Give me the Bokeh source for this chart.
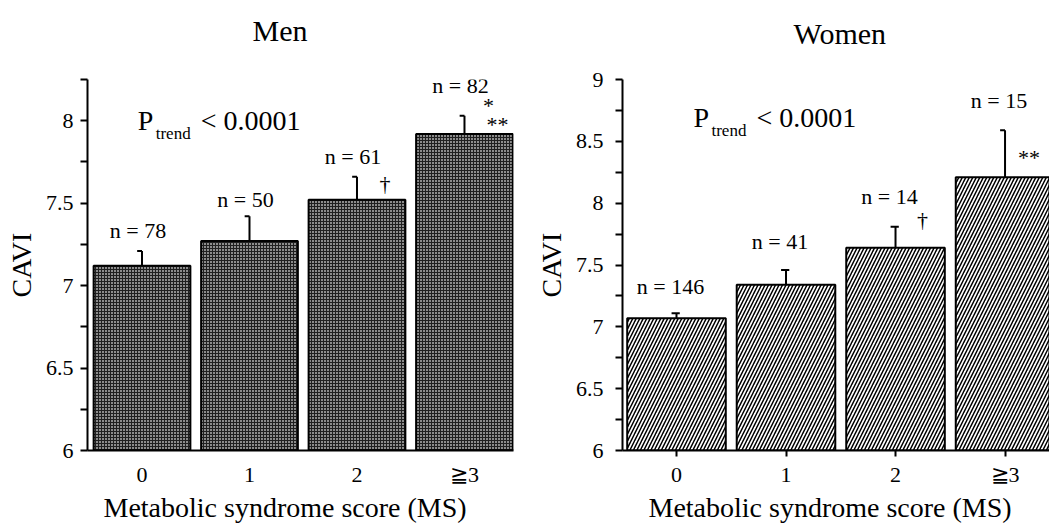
from bokeh.plotting import figure
from bokeh.models import Range1d, FixedTicker, NumeralTickFormatter, Title, ColumnDataSource
from bokeh.layouts import row
from bokeh.embed import file_html
from bokeh.resources import INLINE
from bokeh.core.properties import value

# ---------------- data ----------------
categories = ["0", "1", "2", "≧3"]
men_cavi = [7.12, 7.27, 7.52, 7.92]
men_err = [0.09, 0.15, 0.14, 0.11]
men_n = [78, 50, 61, 82]
women_cavi = [7.07, 7.34, 7.64, 8.21]
women_err = [0.04, 0.12, 0.17, 0.38]
women_n = [146, 41, 14, 15]
men_ticks = [6, 6.5, 7, 7.5, 8]
women_ticks = [6, 6.5, 7, 7.5, 8, 8.5, 9]
p_trend_text = "< 0.0001"

# ---------------- style ----------------
FONT = value("Liberation Serif")
FONT_NAME = "Liberation Serif"
men_n_lift = [20, 17, 20, 30]
women_n_lift = [27, 28, 30, 30]
women_cap_right = [0.03, 0.03, 0.03, 0.0]


def base_fig(width, border_left, border_right, y_start, y_end, x_start, x_end, title,
             title_offset, spacer_standoff, xlabel_offset, yticks, xtick_out,
             ylab_standoff, ytick_standoff):
    p = figure(width=width, height=527, output_backend="svg", toolbar_location=None,
               x_range=Range1d(x_start, x_end), y_range=Range1d(y_start, y_end),
               min_border_left=border_left, min_border_right=border_right,
               min_border_top=79, min_border_bottom=77, title=None)
    p.outline_line_color = None
    p.grid.visible = False
    p.background_fill_color = "white"
    p.border_fill_color = "white"

    # spacer between frame and panel title, then the title itself
    p.add_layout(Title(text=" ", text_font_size="10px", standoff=spacer_standoff), "above")
    p.add_layout(Title(text=title, align="left", offset=title_offset, standoff=0,
                       text_font=FONT_NAME, text_font_size="30px", text_font_style="normal",
                       text_color="black"), "above")

    minor = []
    for a, b in zip(yticks[:-1], yticks[1:]):
        minor.append((a + b) / 2)
    if yticks[-1] < y_end - 1e-9:
        minor.append(yticks[-1] + (yticks[1] - yticks[0]) / 2)
    yax = p.yaxis[0]
    yax.ticker = FixedTicker(ticks=yticks, minor_ticks=minor)
    yax.formatter = NumeralTickFormatter(format="0.[0]")
    yax.axis_label = "CAVI"
    yax.axis_label_text_font = FONT_NAME
    yax.axis_label_text_font_size = "28px"
    yax.axis_label_text_font_style = "normal"
    yax.axis_label_text_color = "black"
    yax.axis_label_standoff = ylab_standoff
    yax.major_label_text_font = FONT_NAME
    yax.major_label_text_font_size = "22px"
    yax.major_label_text_color = "black"
    yax.major_label_standoff = ytick_standoff
    yax.major_tick_in = 0
    yax.major_tick_out = 7
    yax.minor_tick_in = 0
    yax.minor_tick_out = 7
    yax.axis_line_width = 2
    yax.major_tick_line_width = 2
    yax.minor_tick_line_width = 2

    xax = p.xaxis[0]
    xax.ticker = FixedTicker(ticks=list(range(len(categories))))
    xax.major_label_overrides = {i: c for i, c in enumerate(categories)}
    xax.major_label_text_font = FONT_NAME
    xax.major_label_text_font_size = "22px"
    xax.major_label_text_color = "black"
    xax.major_label_standoff = 11 - xtick_out
    xax.major_tick_in = 0
    xax.major_tick_out = xtick_out
    xax.minor_tick_line_color = None
    xax.axis_line_width = 2
    xax.major_tick_line_width = 2
    if xtick_out == 0:
        xax.major_tick_line_color = None

    xl = Title(text="Metabolic syndrome score (MS)", align="left", offset=xlabel_offset,
               text_font=FONT_NAME, text_font_size="28px", text_font_style="normal",
               text_color="black", standoff=0)
    p.add_layout(xl, "below")
    return p


def draw_bars(p, vals, errs, ns, lifts, cap_right, fill_kwargs, n_xoff):
    x = list(range(len(categories)))
    tops = [v + e for v, e in zip(vals, errs)]
    src = ColumnDataSource(dict(x=x, top=vals, err_top=tops,
                                cap_l=[xi - 0.045 for xi in x],
                                cap_r=[xi + c for xi, c in zip(x, cap_right)],
                                label=[f"n = {n}" for n in ns],
                                lift=[-l for l in lifts]))
    p.vbar(x="x", top="top", bottom=p.y_range.start, width=0.9, source=src,
           line_color="black", line_width=2, **fill_kwargs)
    p.segment(x0="x", y0="top", x1="x", y1="err_top", source=src, line_color="black", line_width=2)
    p.segment(x0="cap_l", y0="err_top", x1="cap_r", y1="err_top", source=src,
              line_color="black", line_width=2)
    p.text(x="x", y="err_top", text="label", source=src, x_offset=n_xoff, y_offset="lift",
           text_align="center", text_baseline="middle", text_font=FONT,
           text_font_size="22px", text_color="black")
    return tops


def p_trend(p, x, y):
    p.text(x=[x], y=[y], text=["P"], text_align="left", text_baseline="middle",
           text_font=FONT, text_font_size="28px", text_color="black")
    p.text(x=[x], y=[y], text=["trend"], x_offset=18, y_offset=13, text_align="left",
           text_baseline="middle", text_font=FONT, text_font_size="17px", text_color="black")
    p.text(x=[x], y=[y], text=[p_trend_text], x_offset=63, text_align="left",
           text_baseline="middle", text_font=FONT, text_font_size="28px", text_color="black")


def mark(p, x, y, txt, dx, dy, size="22px"):
    p.text(x=[x], y=[y], text=[txt], x_offset=dx, y_offset=dy, text_align="center",
           text_baseline="middle", text_font=FONT, text_font_size=size, text_color="black")


# ---------------- Men ----------------
pm = base_fig(530, 87, 17, 6, 8.25, -0.507, 3.456, "Men", 165, 20, 16, men_ticks, 0, 6, 7)
men_tops = draw_bars(pm, men_cavi, men_err, men_n, men_n_lift, [0, 0, 0, 0],
                     dict(fill_color="#8c8c8c", hatch_pattern="+", hatch_scale=3,
                          hatch_weight=1, hatch_color="#202020"), -4)
p_trend(pm, -0.04, 8.0)
mark(pm, 2, men_tops[2], "†", 28, 7)
mark(pm, 3, men_tops[3], "*", 24, -10)
mark(pm, 3, men_tops[3], "**", 33, 9)

# ---------------- Women ----------------
pw = base_fig(519, 92, 0, 6, 9, -0.493, 3.406, "Women", 171, 17, 26, women_ticks, 6, 6, 12)
women_tops = draw_bars(pw, women_cavi, women_err, women_n, women_n_lift, women_cap_right,
                       dict(fill_color="white", hatch_pattern="/", hatch_scale=7,
                            hatch_weight=1.5, hatch_color="black"), -6)
p_trend(pw, 0.155, 8.69)
mark(pw, 2, women_tops[2], "†", 27, -7)
mark(pw, 3, women_tops[3], "**", 24, 27)

layout = row(pm, pw)
open("out.html", "w").write(file_html(layout, INLINE))
